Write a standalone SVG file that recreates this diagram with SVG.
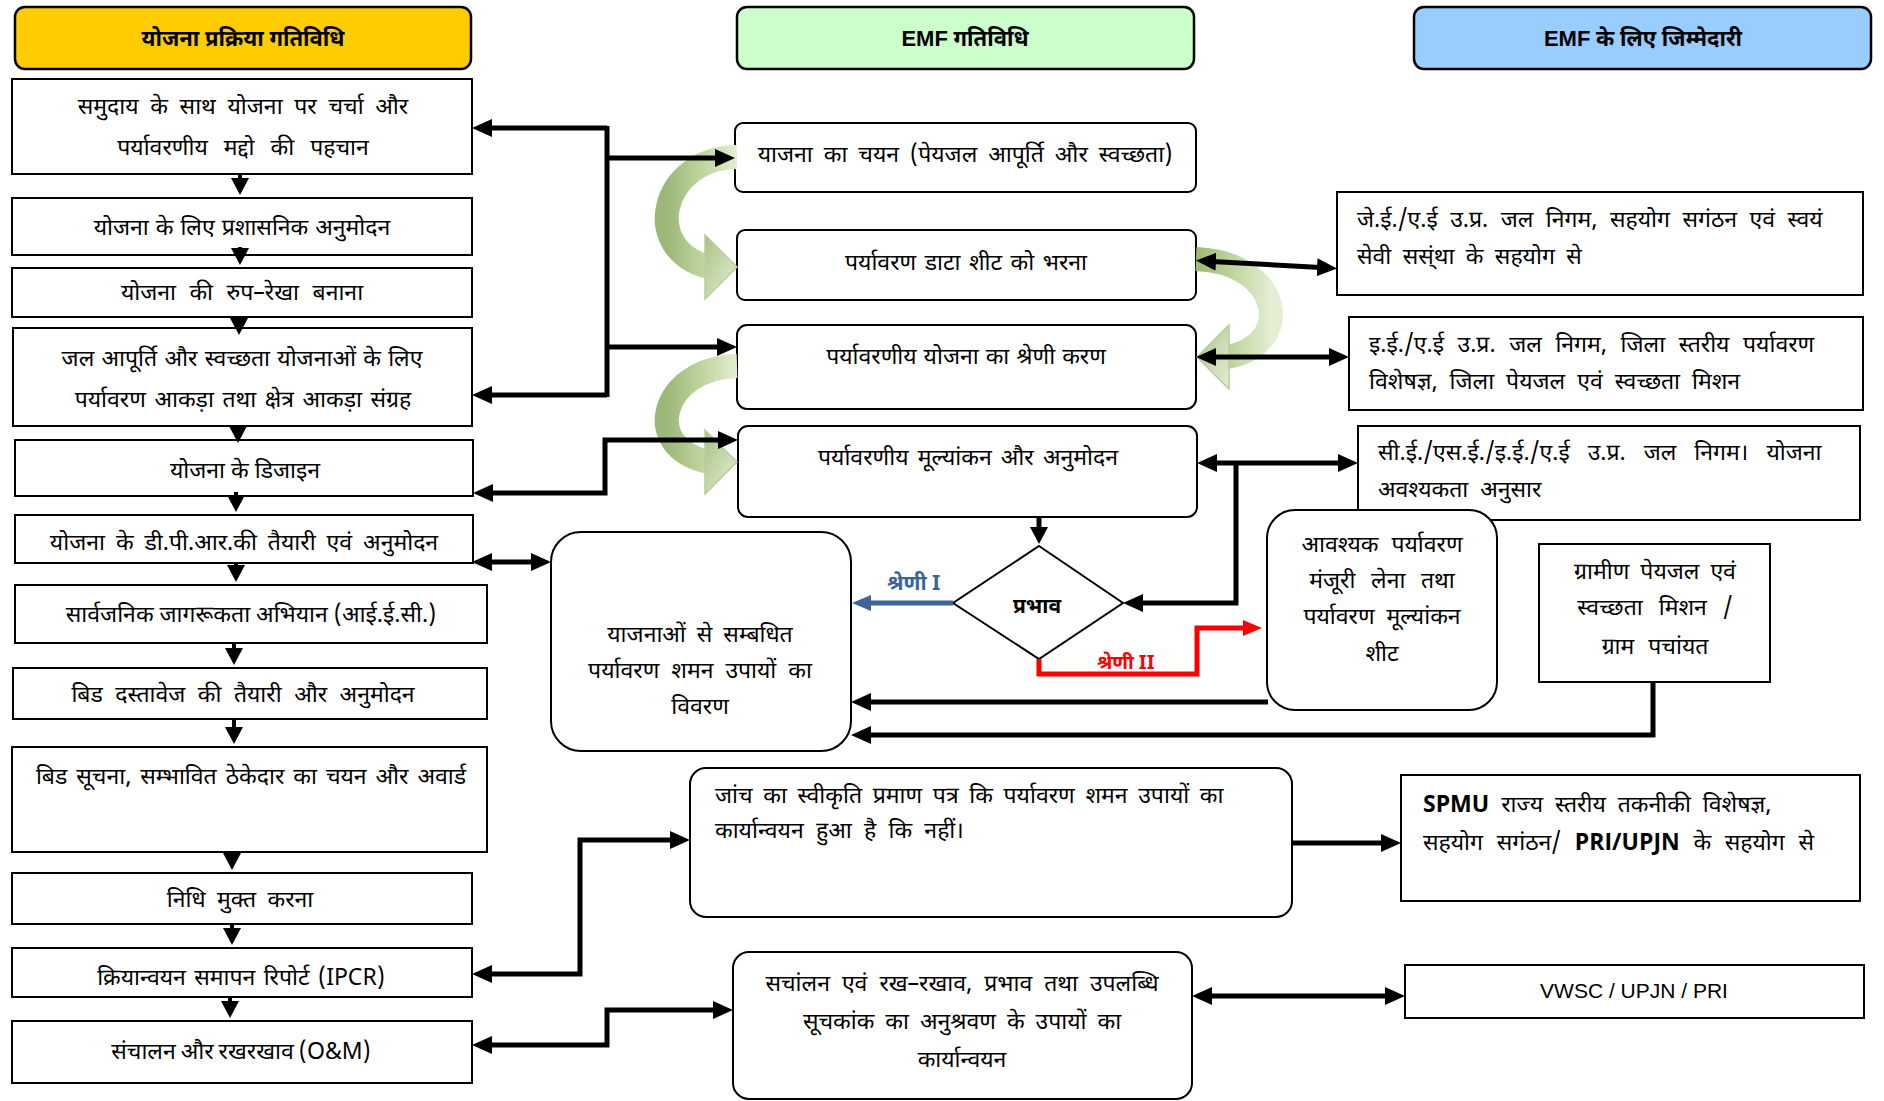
<svg xmlns="http://www.w3.org/2000/svg" width="1884" height="1101" viewBox="0 0 1884 1101">
<defs>
<style>
.bx{fill:#fff;stroke:#000;stroke-width:2}
.hd{stroke:#000;stroke-width:2.5}
.t{font-family:"Noto Sans Devanagari","Lohit Devanagari","Noto Sans","DejaVu Sans",sans-serif;font-size:23px;fill:#000}
.c{text-anchor:middle}
.b{font-weight:bold}
.h{font-size:22px}
.s21{font-size:21px}
.s20{font-size:19.5px}
.ln{fill:none;stroke:#000;stroke-width:5}
.dn{fill:none;stroke:#000;stroke-width:4}
.g{fill:none;stroke:url(#gg);stroke-width:24}
.gh{fill:url(#gg2);stroke:#B9CD98;stroke-width:1.5}
.lat{font-family:"Liberation Sans",Arial,sans-serif}
</style>
<marker id="ah" markerUnits="userSpaceOnUse" markerWidth="22" markerHeight="20" refX="13" refY="9" orient="auto-start-reverse"><path d="M0,0 L20,9 L0,18 Z" fill="#000"/></marker>
<marker id="ahd" markerUnits="userSpaceOnUse" markerWidth="20" markerHeight="20" refX="10" refY="9" orient="auto"><path d="M0,0 L17,9 L0,18 Z" fill="#000"/></marker>
<marker id="ahb" markerUnits="userSpaceOnUse" markerWidth="22" markerHeight="20" refX="12" refY="8" orient="auto"><path d="M0,0 L19,8 L0,16 Z" fill="#3C6496"/></marker>
<marker id="ahr" markerUnits="userSpaceOnUse" markerWidth="22" markerHeight="20" refX="12" refY="8" orient="auto"><path d="M0,0 L19,8 L0,16 Z" fill="#FF0000"/></marker>
<linearGradient id="gg" x1="0" y1="0" x2="1" y2="0"><stop offset="0" stop-color="#9CB878"/><stop offset="0.5" stop-color="#BFD59E"/><stop offset="1" stop-color="#E4EED3"/></linearGradient>
<linearGradient id="gg2" x1="0" y1="0" x2="1" y2="1"><stop offset="0" stop-color="#A9C283"/><stop offset="1" stop-color="#E6EFD8"/></linearGradient>
</defs>
<rect width="1884" height="1101" fill="#fff"/>

<!-- headers -->
<g id="h1"><rect class="hd" x="15" y="7" width="456" height="62" rx="10" fill="#FFCC00"/><text class="t c b h" x="243" y="46">योजना प्रक्रिया गतिविधि</text></g>
<g id="h2"><rect class="hd" x="737" y="7" width="457" height="62" rx="10" fill="#CCFFCC"/><text class="t c b h" x="965" y="46"><tspan class="lat">EMF</tspan> गतिविधि</text></g>
<g id="h3"><rect class="hd" x="1414" y="7" width="457" height="62" rx="10" fill="#99CCFF"/><text class="t c b h" x="1643" y="46"><tspan class="lat">EMF</tspan> के लिए जिम्मेदारी</text></g>

<!-- left column -->
<g id="b1"><rect class="bx" x="12" y="79" width="460" height="95"/><text class="t c" x="243" y="114" word-spacing="5.7">समुदाय के साथ योजना पर चर्चा और</text><text class="t c" x="243" y="155" word-spacing="10">पर्यावरणीय मद्दो की पहचान</text></g>
<g id="b2"><rect class="bx" x="12" y="198" width="460" height="57"/><text class="t c" x="242" y="235" word-spacing="1">योजना के लिए प्रशासनिक अनुमोदन</text></g>
<g id="b3"><rect class="bx" x="12" y="268" width="460" height="49"/><text class="t c" x="242" y="300" word-spacing="7.5">योजना की रुप–रेखा बनाना</text></g>
<g id="b4"><rect class="bx" x="13" y="328" width="459" height="98"/><text class="t c" x="242" y="366" word-spacing="1.3">जल आपूर्ति और स्वच्छता योजनाओं के लिए</text><text class="t c" x="243" y="407" word-spacing="2.6">पर्यावरण आकड़ा  तथा क्षेत्र आकड़ा संग्रह</text></g>
<g id="b5"><rect class="bx" x="15" y="440" width="458" height="56"/><text class="t c" x="245" y="478">योजना के डिजाइन</text></g>
<g id="b6"><rect class="bx" x="15" y="515" width="458" height="48"/><text class="t c" x="244" y="550" word-spacing="5">योजना के डी.पी.आर.की तैयारी एवं अनुमोदन</text></g>
<g id="b7"><rect class="bx" x="15" y="585" width="472" height="58"/><text class="t c" x="251" y="622">सार्वजनिक जागरूकता अभियान (आई.ई.सी.)</text></g>
<g id="b8"><rect class="bx" x="13" y="668" width="474" height="51"/><text class="t c" x="243" y="702" word-spacing="6.5">बिड दस्तावेज की तैयारी और अनुमोदन</text></g>
<g id="b9"><rect class="bx" x="12" y="747" width="475" height="105"/><text class="t c" x="251" y="784" word-spacing="3">बिड सूचना, सम्भावित ठेकेदार का चयन और अवार्ड</text></g>
<g id="b10"><rect class="bx" x="12" y="873" width="460" height="51"/><text class="t c" x="240" y="907" word-spacing="5.4">निधि मुक्त करना</text></g>
<g id="b11"><rect class="bx" x="12" y="948" width="460" height="49"/><text class="t c" x="241" y="985" word-spacing="2.4">क्रियान्वयन समापन रिपोर्ट (IPCR)</text></g>
<g id="b12"><rect class="bx" x="12" y="1021" width="460" height="62"/><text class="t c" x="241" y="1059" word-spacing="-1">संचालन और रखरखाव (O&amp;M)</text></g>

<!-- middle column -->
<g id="m1"><rect class="bx" x="735" y="123" width="461" height="69" rx="8"/><text class="t c" x="965" y="162" word-spacing="5">याजना का चयन (पेयजल आपूर्ति और स्वच्छता)</text></g>
<g id="m2"><rect class="bx" x="737" y="230" width="459" height="70" rx="8"/><text class="t c" x="966" y="270" word-spacing="2.5">पर्यावरण डाटा शीट को भरना</text></g>
<g id="m3"><rect class="bx" x="737" y="325" width="459" height="84" rx="10"/><text class="t c" x="966" y="364" word-spacing="1">पर्यावरणीय योजना का श्रेणी  करण</text></g>
<g id="m4"><rect class="bx" x="738" y="426" width="459" height="91" rx="10"/><text class="t c" x="968" y="465" word-spacing="3.2">पर्यावरणीय मूल्यांकन और अनुमोदन</text></g>
<g id="dia"><polygon points="1039,546 1123,603 1039,659 953,603" fill="#fff" stroke="#000" stroke-width="2"/><text class="t c b s21" x="1037" y="613">प्रभाव</text></g>
<g id="m5"><rect class="bx" x="551" y="532" width="300" height="219" rx="30"/><text class="t c" x="700" y="642" word-spacing="5">याजनाओं से सम्बधित</text><text class="t c" x="700" y="678" word-spacing="6">पर्यावरण शमन उपायों का</text><text class="t c" x="700" y="714">विवरण</text></g>
<g id="m6"><rect class="bx" x="690" y="768" width="602" height="149" rx="16"/><text class="t" x="715" y="803" word-spacing="4.7">जांच का स्वीकृति प्रमाण पत्र कि पर्यावरण शमन उपायों का</text><text class="t" x="715" y="838" word-spacing="6.3">कार्यान्वयन हुआ है कि नहीं।</text></g>
<g id="m7"><rect class="bx" x="733" y="952" width="459" height="147" rx="16"/><text class="t c" x="962" y="991" word-spacing="6">सचांलन एवं रख–रखाव, प्रभाव तथा  उपलब्धि</text><text class="t c" x="962" y="1029" word-spacing="5">सूचकांक का अनुश्रवण के उपायों का</text><text class="t c" x="962" y="1067">कार्यान्वयन</text></g>

<!-- right column -->
<g id="r1"><rect class="bx" x="1337" y="192" width="526" height="103"/><text class="t" x="1357" y="227" word-spacing="6.5">जे.ई./ए.ई उ.प्र. जल निगम, सहयोग सगंठन एवं स्वयं</text><text class="t" x="1357" y="264" word-spacing="5.4">सेवी सस्ंथा के सहयोग से</text></g>
<g id="r2"><rect class="bx" x="1349" y="317" width="514" height="93"/><text class="t" x="1369" y="352" word-spacing="7.6">इ.ई./ए.ई उ.प्र. जल निगम, जिला स्तरीय पर्यावरण</text><text class="t" x="1369" y="389" word-spacing="6">विशेषज्ञ, जिला पेयजल एवं स्वच्छता मिशन</text></g>
<g id="r3"><rect class="bx" x="1358" y="426" width="502" height="94"/><text class="t" x="1378" y="460" word-spacing="12">सी.ई./एस.ई./इ.ई./ए.ई उ.प्र. जल निगम। योजना</text><text class="t" x="1378" y="497" word-spacing="6">अवश्यकता अनुसार</text></g>
<g id="r4"><rect class="bx" x="1267" y="510" width="230" height="200" rx="28"/><text class="t c" x="1382" y="552" word-spacing="7">आवश्यक पर्यावरण</text><text class="t c" x="1382" y="588" word-spacing="9.6">मंजूरी लेना तथा</text><text class="t c" x="1382" y="624" word-spacing="6">पर्यावरण मूल्यांकन</text><text class="t c" x="1382" y="661">शीट</text></g>
<g id="r5"><rect class="bx" x="1539" y="544" width="231" height="138"/><text class="t c" x="1655" y="579" word-spacing="5">ग्रामीण पेयजल एवं</text><text class="t c" x="1655" y="615" word-spacing="10">स्वच्छता मिशन /</text><text class="t c" x="1655" y="654" word-spacing="8">ग्राम पचांयत</text></g>
<g id="r6"><rect class="bx" x="1401" y="775" width="459" height="126"/><text class="t" x="1423" y="812" word-spacing="6"><tspan class="b" font-family="Open Sans, Liberation Sans, sans-serif">SPMU</tspan> राज्य स्तरीय तकनीकी विशेषज्ञ,</text><text class="t" x="1423" y="850" word-spacing="7.7">सहयोग सगंठन/ <tspan class="b" font-family="Open Sans, Liberation Sans, sans-serif">PRI/UPJN</tspan> के सहयोग से</text></g>
<g id="r7"><rect class="bx" x="1405" y="965" width="459" height="53"/><text class="t c lat s21" x="1634" y="998">VWSC / UPJN / PRI</text></g>

<!-- green curved arrows -->
<g id="curves">
<path class="g" d="M737 157 C660 158 640 250 709 267"/>
<polygon class="gh" points="705,235 737,267 705,299"/>
<path class="g" d="M1196 259 C1282 262 1296 345 1227 357"/>
<polygon class="gh" points="1229,325 1197,357 1229,389"/>
<path class="g" d="M737 366 C660 368 640 448 709 462"/>
<polygon class="gh" points="705,430 737,462 705,494"/>
</g>

<!-- connectors -->
<g id="connectors">
<path class="dn" d="M240 174 L240 188" marker-end="url(#ahd)"/>
<path class="dn" d="M240 247 L240 258" marker-end="url(#ahd)"/>
<path class="dn" d="M239 317 L239 328" marker-end="url(#ahd)"/>
<path class="dn" d="M238 426 L238 436" marker-end="url(#ahd)"/>
<path class="dn" d="M236 492 L236 505" marker-end="url(#ahd)"/>
<path class="dn" d="M236 563 L236 575" marker-end="url(#ahd)"/>
<path class="dn" d="M234 643 L234 658" marker-end="url(#ahd)"/>
<path class="dn" d="M234 719 L234 737" marker-end="url(#ahd)"/>
<path class="dn" d="M232 852 L232 863" marker-end="url(#ahd)"/>
<path class="dn" d="M232 924 L232 938" marker-end="url(#ahd)"/>
<path class="dn" d="M230 997 L230 1011" marker-end="url(#ahd)"/>

<path class="ln" d="M607 126 L607 397"/>
<path class="ln" d="M607 128 L479 128" marker-end="url(#ah)"/>
<path class="ln" d="M607 158 L728 158" marker-end="url(#ah)"/>
<path class="ln" d="M607 347 L730 347" marker-end="url(#ah)"/>
<path class="ln" d="M607 395 L479 395" marker-end="url(#ah)"/>
<path class="ln" d="M731 440 L605 440 L605 493 L480 493" marker-start="url(#ah)" marker-end="url(#ah)"/>
<path class="ln" d="M479 562 L544 562" marker-start="url(#ah)" marker-end="url(#ah)"/>
<path class="ln" d="M683 840 L580 840 L580 974 L479 974" marker-start="url(#ah)" marker-end="url(#ah)"/>
<path class="ln" d="M479 1045 L607 1045 L607 1010 L726 1010" marker-start="url(#ah)" marker-end="url(#ah)"/>

<path class="ln" d="M1203 261 L1330 268" marker-start="url(#ah)" marker-end="url(#ah)"/>
<path class="ln" d="M1203 357 L1342 357" marker-start="url(#ah)" marker-end="url(#ah)"/>
<path class="ln" d="M1204 463 L1351 463" marker-start="url(#ah)" marker-end="url(#ah)"/>
<path class="ln" d="M1236 463 L1236 603 L1130 603" marker-end="url(#ah)"/>
<path class="ln" d="M1039 518 L1039 537" marker-end="url(#ahd)"/>
<path d="M953 603 L859 603" fill="none" stroke="#3C6496" stroke-width="5" marker-end="url(#ahb)"/>
<text class="t b s21" x="887" y="590" style="fill:#3C6496">श्रेणी I</text>
<path d="M1039 659 L1039 674 L1197 674 L1197 628 L1255 628" fill="none" stroke="#FF0000" stroke-width="5" stroke-linejoin="miter" marker-end="url(#ahr)"/>
<text class="t b s20" x="1097" y="669" style="fill:#FF0000">श्रेणी II</text>
<path class="ln" d="M1268 702 L858 702" marker-end="url(#ah)"/>
<path class="ln" d="M1653 682 L1653 735 L858 735" marker-end="url(#ah)"/>
<path class="ln" d="M1292 843 L1394 843" marker-end="url(#ah)"/>
<path class="ln" d="M1199 996 L1398 996" marker-start="url(#ah)" marker-end="url(#ah)"/>
</g>
</svg>
